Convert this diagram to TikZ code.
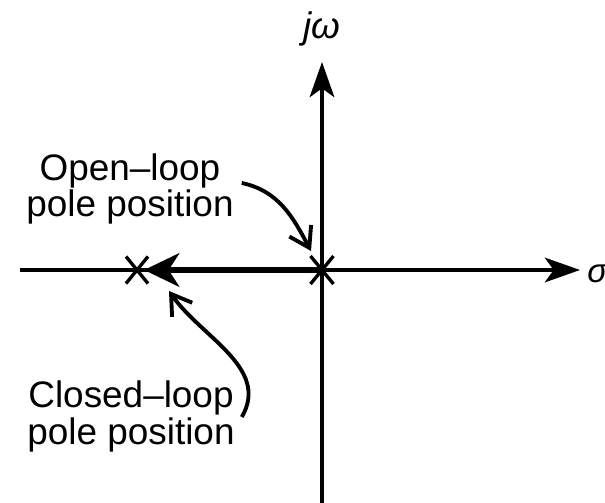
\documentclass[tikz,border=0pt]{standalone}
\usepackage{fontspec}
\setmainfont{Liberation Sans}
\usetikzlibrary{arrows.meta}
\tikzset{
  axis/.style={line width=2.1pt,-{Stealth[length=20pt,width=14pt,inset=5pt]}},
  pointer/.style={line width=2.2pt,-{Straight Barb[length=11pt,width=14pt,line width=2.2pt]}},
  polemark/.style={line width=1.9pt},
  note/.style={align=center,font=\fontsize{21}{21}\selectfont}
}
\begin{document}
\begin{tikzpicture}
\useasboundingbox (-6.44,-4.64) rectangle (5.66,5.4);
% axes
\coordinate (O) at (0,0);
\coordinate (clp) at (-3.7,0);
\coordinate (xl) at (-6.04,0);
\coordinate (xr) at (5.16,0);
\coordinate (yb) at (0,-4.7);
\coordinate (yt) at (0,4.16);
\draw[line width=2.1pt] (xl) -- (O);
\draw[axis] (O) -- (xr);
\draw[axis] (yb) -- (yt);
\node[font=\fontsize{21}{21}\selectfont\itshape] (jw) at (0,4.82) {jω};
\node[font=\fontsize{19}{20}\selectfont\itshape,anchor=west,inner sep=0pt] (sig) at (5.3,-0.08) {σ};
% pole shift
\draw[line width=3.6pt,-{Stealth[length=20pt,width=19pt,inset=6pt]}] (O) -- ([xshift=4pt]clp);
\draw[polemark] ([shift={(-0.23,0.28)}]O) -- ([shift={(0.23,-0.28)}]O);
\draw[polemark] ([shift={(-0.23,-0.28)}]O) -- ([shift={(0.23,0.28)}]O);
\draw[polemark] ([shift={(-0.22,0.27)}]clp) -- ([shift={(0.22,-0.27)}]clp);
\draw[polemark] ([shift={(-0.22,-0.27)}]clp) -- ([shift={(0.22,0.27)}]clp);
% labels
\node[note] (olp) at (-3.84,1.62) {Open--loop\\pole position};
\node[note] (cl) at (-3.82,-2.92) {Closed--loop\\pole position};
\draw[pointer] ([shift={(0.04,0.12)}]olp.east) to[out=-12,in=118] ([shift={(-0.22,0.38)}]O);
\draw[pointer] ([shift={(0.02,-0.02)}]cl.east) to[out=60,in=-55] ([shift={(0.64,-0.42)}]clp);
\end{tikzpicture}
\end{document}
